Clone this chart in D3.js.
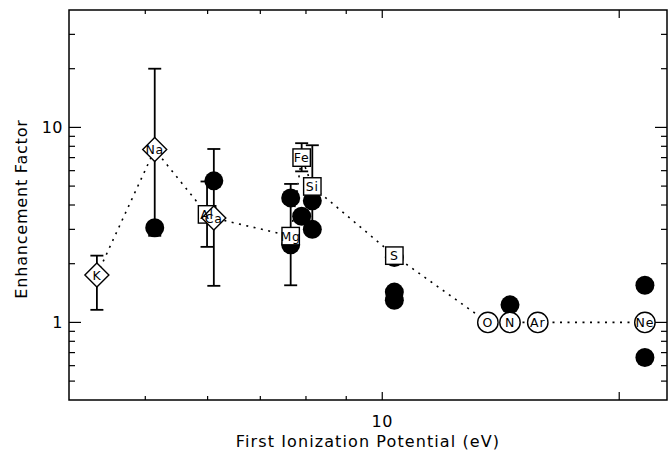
<!DOCTYPE html>
<html>
<head>
<meta charset="utf-8">
<script src="https://cdn.jsdelivr.net/npm/d3@7"></script>
<style>
  html, body { margin: 0; padding: 0; background: #fff; }
  svg { display: block; }
  text { font-family: "DejaVu Sans", sans-serif; fill: #000; }
</style>
</head>
<body>
<svg id="chart" width="668" height="452"></svg>
<script>
// Elements of the dotted (model) curve, ordered by first ionization potential
const elements = ["K", "Na", "Al", "Ca", "Mg", "Fe", "Si", "S", "O", "N", "Ar", "Ne"];
const fip      = [4.34, 5.14, 5.99, 6.11, 7.65, 7.90, 8.15, 10.36, 13.62, 14.53, 15.76, 21.56];
const factor   = [1.75, 7.7, 3.58, 3.43, 2.77, 7.0, 4.98, 2.2, 1.0, 1.0, 1.0, 1.0];
const shapes   = ["diamond", "diamond", "square", "diamond", "square", "square", "square",
                  "square", "circle", "circle", "circle", "circle"];
const errLow   = [1.16, 2.78, 2.44, 1.54, 1.55, 5.95, 3.05, null, null, null, null, null];
const errHigh  = [2.2, 20.0, 5.28, 7.75, 5.13, 8.3, 8.1, null, null, null, null, null];

// Filled points (measured values)
const obsFip    = [5.14, 6.11, 7.65, 7.65, 7.90, 8.15, 8.15, 10.36, 10.36, 10.36, 14.53, 21.56, 21.56];
const obsFactor = [3.06, 5.32, 4.35, 2.5, 3.5, 4.2, 3.0, 2.15, 1.43, 1.3, 1.23, 1.55, 0.66];

// Axis ticks
const xMajor = [10, 20];
const xMinor = [5, 6, 7, 8, 9];
const xLabels = [10];
const yMajor = [1, 10];
const yMinor = [0.5, 0.6, 0.7, 0.8, 0.9, 2, 3, 4, 5, 6, 7, 8, 9, 20, 30];
const yLabels = [1, 10];

const xTitle = "First Ionization Potential (eV)";
const yTitle = "Enhancement Factor";

const svg = d3.select("#chart");
const L = 69, R = 667, T = 10, B = 400;

const x = d3.scaleLog().domain([4, 23]).range([L, R]);
const y = d3.scaleLog().domain([0.4, 40]).range([B, T]);

const g = svg.append("g");

// Frame
g.append("rect")
  .attr("x", L).attr("y", T).attr("width", R - L).attr("height", B - T)
  .attr("fill", "none").attr("stroke", "#000").attr("stroke-width", 1.5);

// Ticks on all four sides, pointing inward
function xTicks(vals, len) {
  vals.forEach(v => {
    g.append("line").attr("x1", x(v)).attr("x2", x(v)).attr("y1", B).attr("y2", B - len)
      .attr("stroke", "#000").attr("stroke-width", 1.2);
    g.append("line").attr("x1", x(v)).attr("x2", x(v)).attr("y1", T).attr("y2", T + len)
      .attr("stroke", "#000").attr("stroke-width", 1.2);
  });
}
function yTicks(vals, len) {
  vals.forEach(v => {
    g.append("line").attr("x1", L).attr("x2", L + len).attr("y1", y(v)).attr("y2", y(v))
      .attr("stroke", "#000").attr("stroke-width", 1.2);
    g.append("line").attr("x1", R).attr("x2", R - len).attr("y1", y(v)).attr("y2", y(v))
      .attr("stroke", "#000").attr("stroke-width", 1.2);
  });
}
xTicks(xMajor, 8);
xTicks(xMinor, 4);
yTicks(yMajor, 12);
yTicks(yMinor, 6);

// Tick labels
xLabels.forEach(v => {
  g.append("text").attr("x", x(v)).attr("y", 427)
    .attr("text-anchor", "middle").attr("font-size", 16).attr("letter-spacing", 0.5)
    .text(d3.format("d")(v));
});
yLabels.forEach(v => {
  g.append("text").attr("x", 63).attr("y", y(v)).attr("dy", "0.36em")
    .attr("text-anchor", "end").attr("font-size", 16).attr("letter-spacing", 0.5)
    .text(d3.format("d")(v));
});

// Axis titles
g.append("text").attr("x", (L + R) / 2).attr("y", 447)
  .attr("text-anchor", "middle").attr("font-size", 16).attr("letter-spacing", 1.1)
  .text(xTitle);
g.append("text").attr("transform", "translate(27,209) rotate(-90)")
  .attr("text-anchor", "middle").attr("font-size", 16).attr("letter-spacing", 0.8)
  .text(yTitle);

// Error bars of the model points
const capHalf = 6.5;
elements.forEach((el, i) => {
  if (errLow[i] == null) return;
  const cx = x(fip[i]);
  const eb = g.append("g").attr("stroke", "#000").attr("stroke-width", 1.8);
  eb.append("line").attr("x1", cx).attr("x2", cx).attr("y1", y(errLow[i])).attr("y2", y(errHigh[i]));
  [errLow[i], errHigh[i]].forEach(v => {
    eb.append("line").attr("x1", cx - capHalf).attr("x2", cx + capHalf).attr("y1", y(v)).attr("y2", y(v));
  });
});

// Dotted connecting line
const line = d3.line().x(d => x(d[0])).y(d => y(d[1]));
g.append("path")
  .datum(fip.map((f, i) => [f, factor[i]]))
  .attr("d", line)
  .attr("fill", "none").attr("stroke", "#000").attr("stroke-width", 1.6)
  .attr("stroke-dasharray", "2,5.5");

// Filled measured points
g.selectAll("circle.obs").data(obsFip).join("circle")
  .attr("class", "obs")
  .attr("cx", d => x(d))
  .attr("cy", (d, i) => y(obsFactor[i]))
  .attr("r", 9.5)
  .attr("fill", "#000");

// Open symbols of the model points
elements.forEach((el, i) => {
  const cx = x(fip[i]), cy = y(factor[i]);
  const s = shapes[i];
  let m;
  if (s === "diamond") {
    const h = 12;
    m = g.append("path").attr("d", `M${cx},${cy - h}L${cx + h},${cy}L${cx},${cy + h}L${cx - h},${cy}Z`);
  } else if (s === "square") {
    const h = 8.7;
    m = g.append("rect").attr("x", cx - h).attr("y", cy - h).attr("width", 2 * h).attr("height", 2 * h);
  } else {
    m = g.append("circle").attr("cx", cx).attr("cy", cy).attr("r", 10.2);
  }
  m.attr("fill", "#fff").attr("stroke", "#000").attr("stroke-width", 1.4);
});

// Element labels
elements.forEach((el, i) => {
  g.append("text").attr("x", x(fip[i])).attr("y", y(factor[i])).attr("dy", "0.36em")
    .attr("text-anchor", "middle").attr("font-size", 12.5).attr("letter-spacing", 0.8)
    .text(el);
});
</script>
</body>
</html>
